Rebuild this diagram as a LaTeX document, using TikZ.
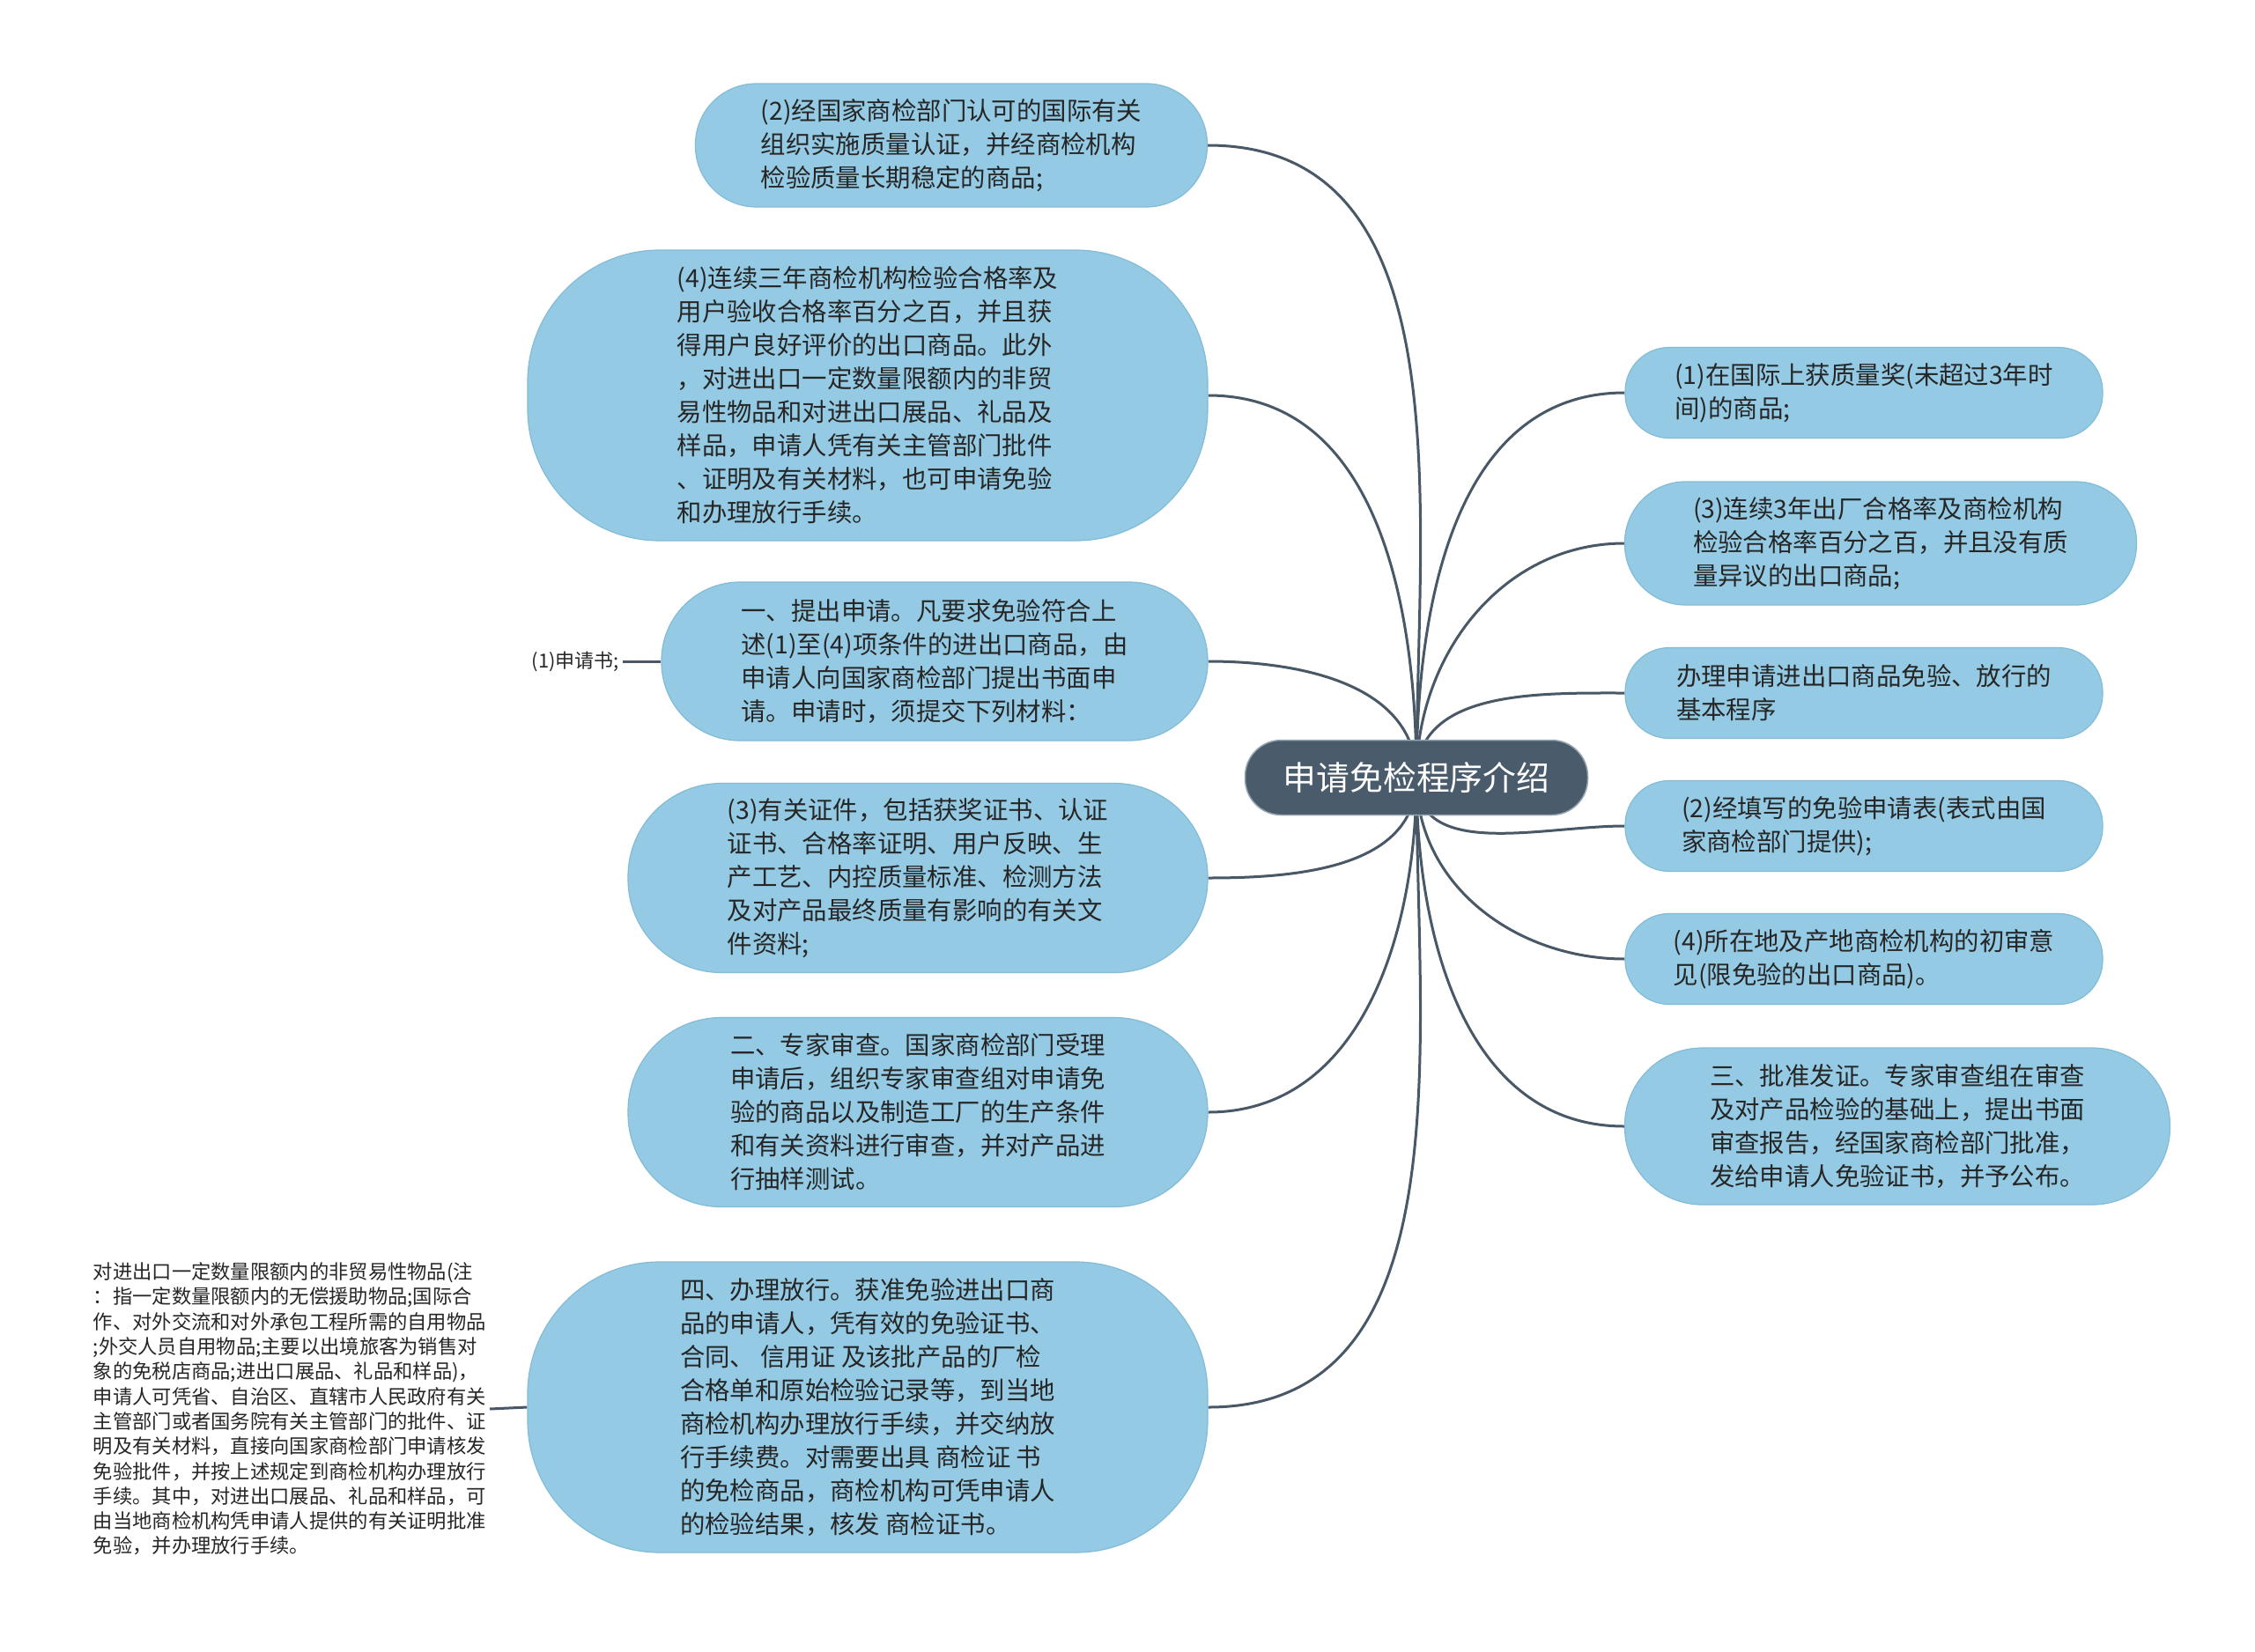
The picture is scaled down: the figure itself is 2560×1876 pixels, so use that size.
\documentclass[tikz,border=0pt]{standalone}
\usepackage{fontspec}
\setmainfont{Noto Sans CJK SC}
\usetikzlibrary{backgrounds}
\definecolor{topicblue}{RGB}{148,202,227}
\definecolor{topicedge}{RGB}{130,188,215}
\definecolor{rootslate}{RGB}{74,92,108}
\definecolor{rootedge}{RGB}{150,165,178}
\definecolor{linkslate}{RGB}{72,88,102}
\definecolor{bodytext}{RGB}{38,38,38}

\begin{document}
\begin{tikzpicture}[
    x=1pt, y=-1pt,
    topic/.style={rectangle, draw=topicedge, line width=1.2pt, fill=topicblue, text=bodytext,
                  align=left, inner sep=0pt, font=\fontsize{28.4pt}{38pt}\selectfont},
    central/.style={rectangle, rounded corners=41pt, draw=rootedge, line width=1.5pt, fill=rootslate,
                    text=white, minimum width=389pt, minimum height=85pt, font=\fontsize{37.8pt}{44pt}\selectfont},
    notetext/.style={text=bodytext, align=left, inner sep=4pt},
    conn/.style={draw=linkslate, line width=3pt}
  ]
  \useasboundingbox (0,0) rectangle (2560,1876);

  % centre
  \node[central] (root) at (1608,883) {申请免检程序介绍};

  % left side
  \node[topic, minimum width=581pt, minimum height=140pt, rounded corners=69pt] (q2) at (1080,165)
    {(2)经国家商检部门认可的国际有关\\组织实施质量认证，并经商检机构\\检验质量长期稳定的商品;};
  \node[topic, minimum width=772pt, minimum height=330pt, rounded corners=150pt] (q4) at (985,449)
    {(4)连续三年商检机构检验合格率及\\用户验收合格率百分之百，并且获\\得用户良好评价的出口商品。此外\\，对进出口一定数量限额内的非贸\\易性物品和对进出口展品、礼品及\\样品，申请人凭有关主管部门批件\\、证明及有关材料，也可申请免验\\和办理放行手续。};
  \node[topic, minimum width=620pt, minimum height=180pt, rounded corners=89pt] (apply) at (1061,751)
    {一、提出申请。凡要求免验符合上\\述(1)至(4)项条件的进出口商品，由\\申请人向国家商检部门提出书面申\\请。申请时，须提交下列材料：};
  \node[topic, minimum width=658pt, minimum height=215pt, rounded corners=106pt] (docs3) at (1042,997)
    {(3)有关证件，包括获奖证书、认证\\证书、合格率证明、用户反映、生\\产工艺、内控质量标准、检测方法\\及对产品最终质量有影响的有关文\\件资料;};
  \node[topic, minimum width=658pt, minimum height=215pt, rounded corners=106pt] (review) at (1042,1263)
    {二、专家审查。国家商检部门受理\\申请后，组织专家审查组对申请免\\验的商品以及制造工厂的生产条件\\和有关资料进行审查，并对产品进\\行抽样测试。};
  \node[topic, minimum width=772pt, minimum height=330pt, rounded corners=150pt] (release) at (985,1598)
    {四、办理放行。获准免验进出口商\\品的申请人，凭有效的免验证书、\\合同、 信用证 及该批产品的厂检\\合格单和原始检验记录等，到当地\\商检机构办理放行手续，并交纳放\\行手续费。对需要出具 商检证 书\\的免检商品，商检机构可凭申请人\\的检验结果，核发 商检证书。};

  % right side
  \node[topic, minimum width=542pt, minimum height=103pt, rounded corners=50pt] (q1) at (2116,446)
    {(1)在国际上获质量奖(未超过3年时\\间)的商品;};
  \node[topic, minimum width=581pt, minimum height=140pt, rounded corners=69pt] (q3) at (2135,617)
    {(3)连续3年出厂合格率及商检机构\\检验合格率百分之百，并且没有质\\量异议的出口商品;};
  \node[topic, minimum width=542pt, minimum height=103pt, rounded corners=50pt] (basic) at (2116,787)
    {办理申请进出口商品免验、放行的\\基本程序};
  \node[topic, minimum width=542pt, minimum height=103pt, rounded corners=50pt] (form2) at (2116,938)
    {(2)经填写的免验申请表(表式由国\\家商检部门提供);};
  \node[topic, minimum width=542pt, minimum height=103pt, rounded corners=50pt] (opinion4) at (2116,1089)
    {(4)所在地及产地商检机构的初审意\\见(限免验的出口商品)。};
  \node[topic, minimum width=619pt, minimum height=178pt, rounded corners=88pt] (approve) at (2154,1279)
    {三、批准发证。专家审查组在审查\\及对产品检验的基础上，提出书面\\审查报告，经国家商检部门批准，\\发给申请人免验证书，并予公布。};

  % leaves
  \node[notetext, anchor=east, font=\fontsize{22pt}{26pt}\selectfont] (appform) at (707,751) {(1)申请书;};
  \node[notetext, anchor=east, font=\fontsize{22.3pt}{28.3pt}\selectfont] (exempt) at (556,1600)
    {对进出口一定数量限额内的非贸易性物品(注\\：指一定数量限额内的无偿援助物品;国际合\\作、对外交流和对外承包工程所需的自用物品\\;外交人员自用物品;主要以出境旅客为销售对\\象的免税店商品;进出口展品、礼品和样品)，\\申请人可凭省、自治区、直辖市人民政府有关\\主管部门或者国务院有关主管部门的批件、证\\明及有关材料，直接向国家商检部门申请核发\\免验批件，并按上述规定到商检机构办理放行\\手续。其中，对进出口展品、礼品和样品，可\\由当地商检机构凭申请人提供的有关证明批准\\免验，并办理放行手续。};

  \begin{scope}[on background layer]
    \fill[white] (0,0) rectangle (2560,1876);
    \draw[conn] (root.center) to[out=90, in=0] (q2.east);
    \draw[conn] (root.center) to[out=90, in=0] (q4.east);
    \draw[conn] (root.center) to[out=90, in=0] (apply.east);
    \draw[conn] (root.center) to[out=-90, in=0] (docs3.east);
    \draw[conn] (root.center) to[out=-90, in=0] (review.east);
    \draw[conn] (root.center) to[out=-90, in=0] (release.east);
    \draw[conn] (root.center) to[out=90, in=180] (q1.west);
    \draw[conn] (root.center) to[out=90, in=180] (q3.west);
    \draw[conn] (root.center) to[out=90, in=180] (basic.west);
    \draw[conn] (root.center) to[out=-90, in=180] (form2.west);
    \draw[conn] (root.center) to[out=-90, in=180] (opinion4.west);
    \draw[conn] (root.center) to[out=-90, in=180] (approve.west);
    \draw[conn] (apply.west) -- (appform.east);
    \draw[conn] (release.west) -- (exempt.east);
  \end{scope}
\end{tikzpicture}
\end{document}
